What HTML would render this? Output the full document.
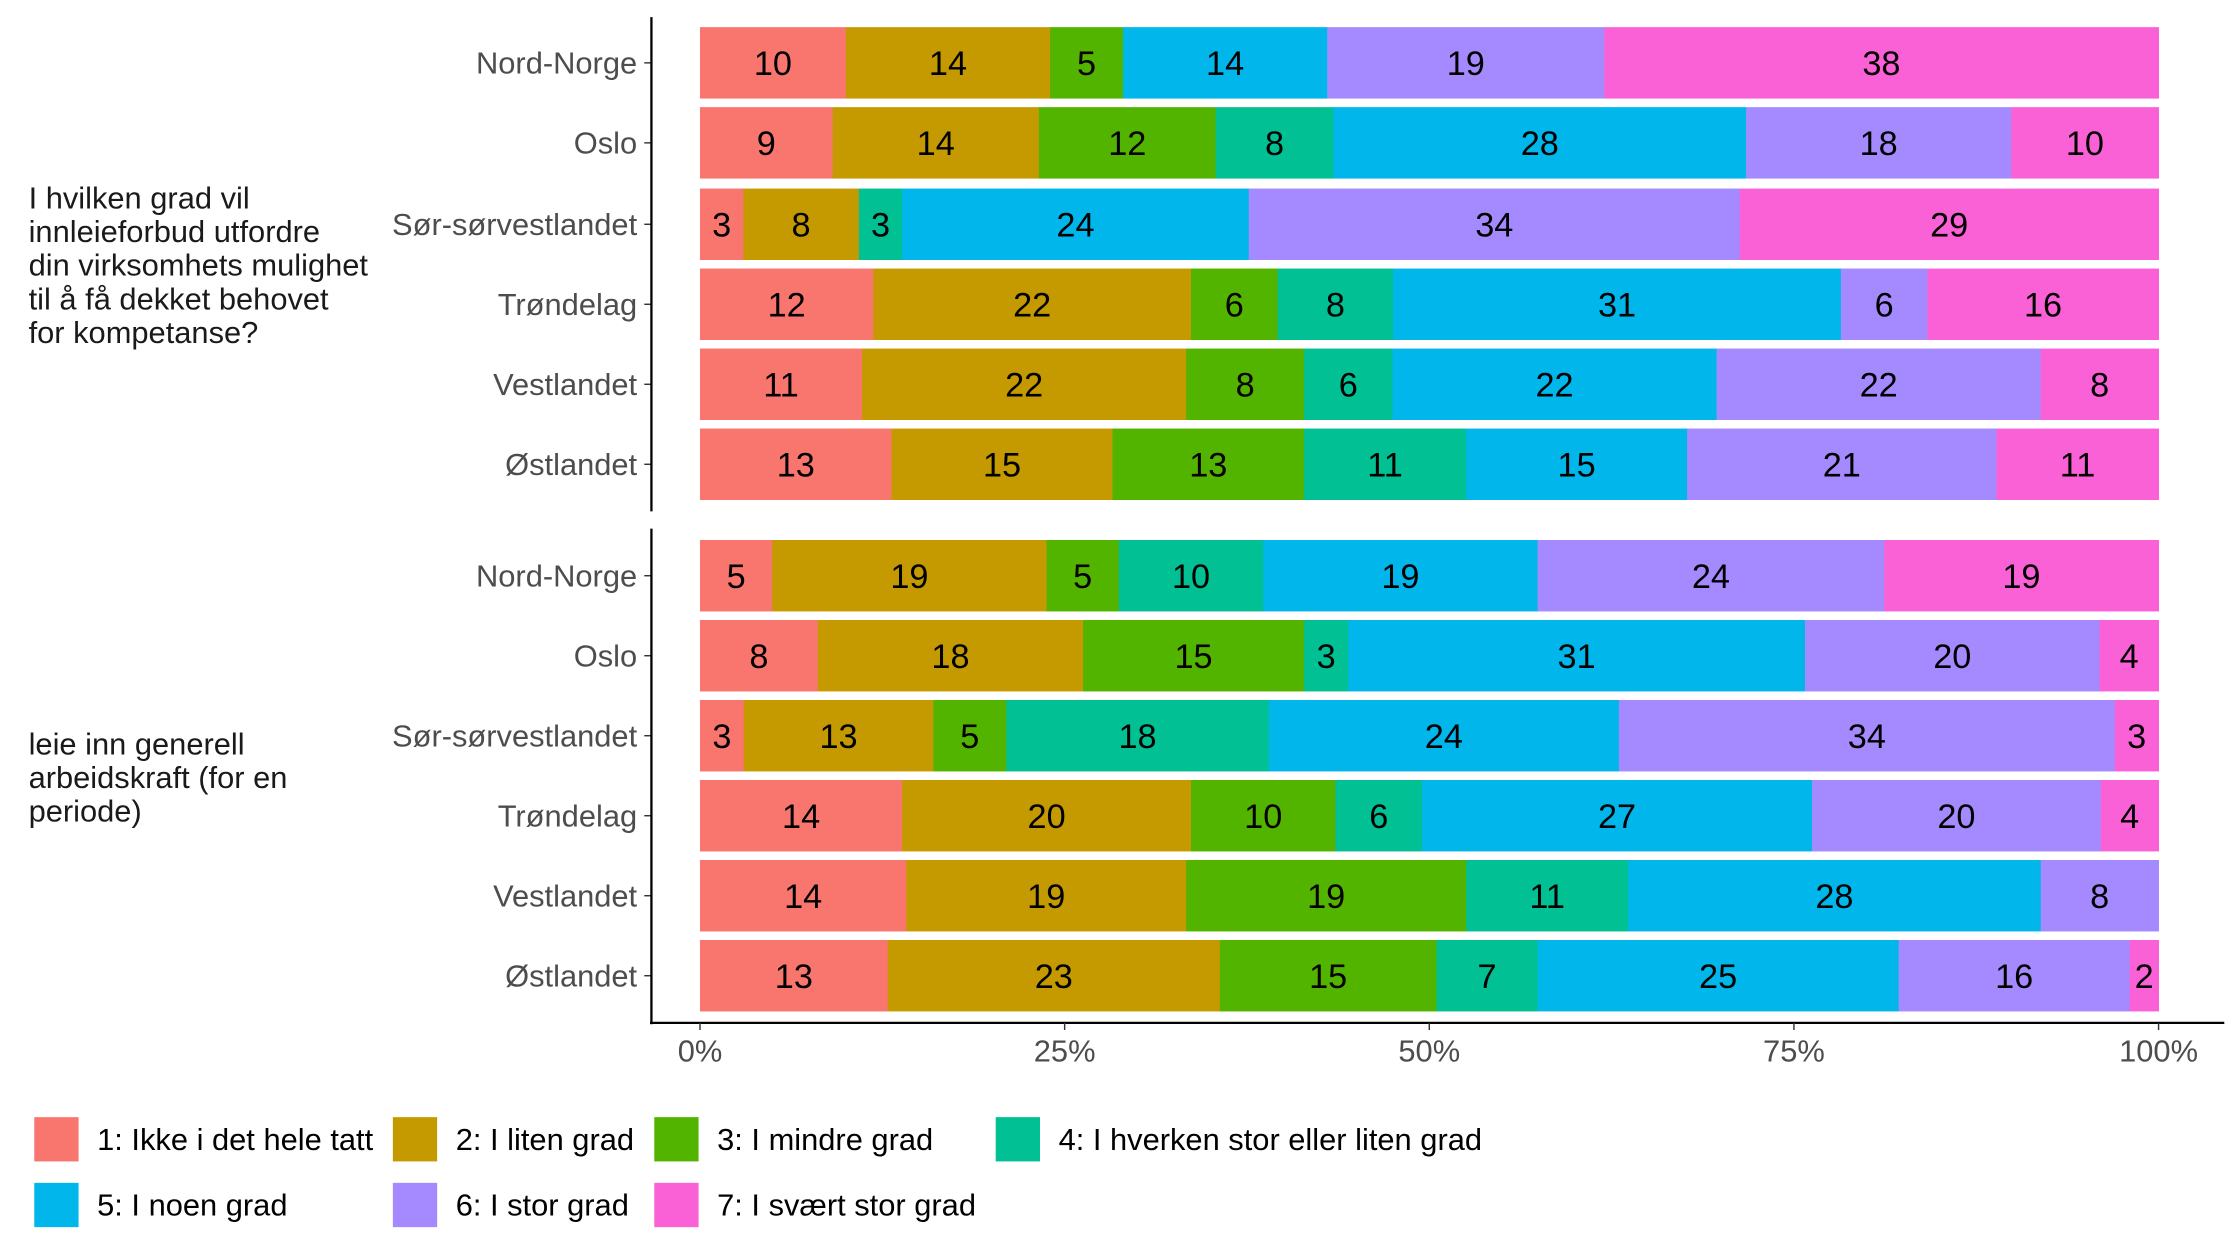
<!DOCTYPE html>
<html><head><meta charset="utf-8">
<style>
html,body{margin:0;padding:0;background:#fff;width:2240px;height:1260px;overflow:hidden}
text{font-family:"Liberation Sans",Arial,sans-serif}
</style></head>
<body>
<svg id="c" width="2240" height="1260" viewBox="0 0 1568 882" xmlns="http://www.w3.org/2000/svg"></svg>
<script>
var cols=["#F8766D","#C49A00","#53B400","#00C094","#00B6EB","#A58AFF","#FB61D7"];
var names=["Nord-Norge","Oslo","Sør-sørvestlandet","Trøndelag","Vestlandet","Østlandet"];
var top_=[[10,14,5,0,14,19,38],[9,14,12,8,28,18,10],[3,8,0,3,24,34,29],[12,22,6,8,31,6,16],[11,22,8,6,22,22,8],[13,15,13,11,15,21,11]];
var bot=[[5,19,5,10,19,24,19],[8,18,15,3,31,20,4],[3,13,5,18,24,34,3],[14,20,10,6,27,20,4],[14,19,19,11,28,8,0],[13,23,15,7,25,16,2]];
var s='';
var x0=490,W=1021,h=50,fs=21.6;
function panel(data,cys){
 data.forEach(function(r,i){
  var tot=r.reduce(function(a,b){return a+b},0),x=x0,cy=cys[i];
  r.forEach(function(v,k){
   if(!v)return;var w=v/tot*W;
   s+='<rect x="'+x+'" y="'+(cy-h/2)+'" width="'+(w+0.3)+'" height="'+h+'" fill="'+cols[k]+'"/>';
   s+='<text x="'+(x+w/2)+'" y="'+(cy+8.5)+'" font-size="24" text-anchor="middle" fill="#000">'+v+'</text>';
   x+=w;
  });
  s+='<text x="446" y="'+(cy+7.5)+'" font-size="'+fs+'" text-anchor="end" fill="#4d4d4d">'+names[i]+'</text>';
  s+='<line x1="451" x2="456" y1="'+cy+'" y2="'+cy+'" stroke="#333" stroke-width="1"/>';
 });
}
panel(top_,[44,100,157,213,269,325]);
panel(bot,[403,459,515,571,627,683]);
s+='<line x1="456" x2="456" y1="12" y2="358" stroke="#000" stroke-width="1.6"/>';
s+='<line x1="456" x2="456" y1="370" y2="717" stroke="#000" stroke-width="1.6"/>';
s+='<line x1="455" x2="1557" y1="716" y2="716" stroke="#000" stroke-width="1.6"/>';
["0%","25%","50%","75%","100%"].forEach(function(t,i){var x=x0+W*i/4;
 s+='<line x1="'+x+'" x2="'+x+'" y1="716" y2="721" stroke="#333"/>';
 s+='<text x="'+x+'" y="743" font-size="'+fs+'" text-anchor="middle" fill="#4d4d4d">'+t+'</text>';});
var l1=["I hvilken grad vil","innleieforbud utfordre","din virksomhets mulighet","til å få dekket behovet","for kompetanse?"];
l1.forEach(function(t,i){s+='<text x="20" y="'+(146+i*23.5)+'" font-size="'+fs+'" fill="#1a1a1a">'+t+'</text>';});
var l2=["leie inn generell","arbeidskraft (for en","periode)"];
l2.forEach(function(t,i){s+='<text x="20" y="'+(528+i*23.5)+'" font-size="'+fs+'" fill="#1a1a1a">'+t+'</text>';});
var leg=[[24,782,"1: Ikke i det hele tatt"],[275,782,"2: I liten grad"],[458,782,"3: I mindre grad"],[697,782,"4: I hverken stor eller liten grad"],[24,828,"5: I noen grad"],[275,828,"6: I stor grad"],[458,828,"7: I svært stor grad"]];
leg.forEach(function(l,i){s+='<rect x="'+l[0]+'" y="'+l[1]+'" width="31" height="31" fill="'+cols[i]+'"/>';
 s+='<text x="'+(l[0]+44)+'" y="'+(l[1]+23)+'" font-size="'+fs+'" fill="#000">'+l[2]+'</text>';});
document.getElementById('c').innerHTML=s;
</script>
</body></html>
